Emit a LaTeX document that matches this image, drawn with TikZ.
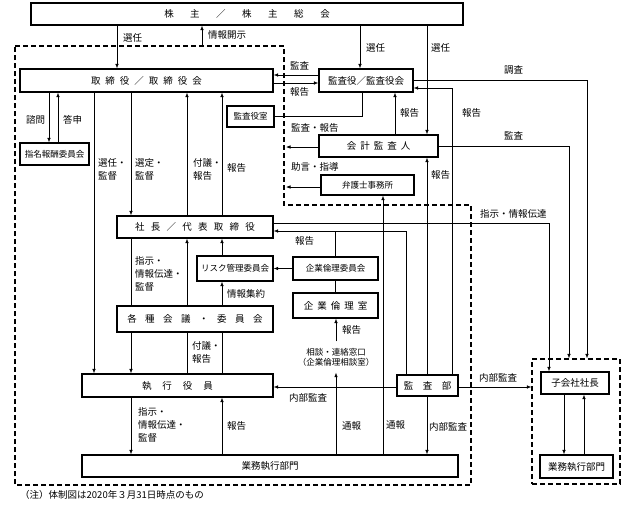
\documentclass[tikz,border=0pt]{standalone}
\usepackage{fontspec}
\setmainfont{Noto Sans CJK JP}
\usetikzlibrary{arrows.meta}

\makeatletter
\newcommand\spaced[2]{%
  \def\sp@sep{}%
  \@tfor\sp@c:=#2\do{\sp@sep\sp@c\def\sp@sep{\hspace{#1}}}}
\makeatother

\tikzset{
  box/.style={draw, line width=1.2pt, fill=white, inner sep=0pt,
    font=\fontsize{9.5}{12}\selectfont},
  small/.style={font=\fontsize{8.5}{10}\selectfont},
  lab/.style={inner sep=0pt, anchor=west, align=left,
    font=\fontsize{9.5}{13}\selectfont},
  con/.style={line width=0.6pt},
  arr/.style={con, -{Latex[length=4.5pt,width=3.5pt]}},
  region/.style={line width=1.2pt, dash pattern=on 5pt off 3pt},
}

\begin{document}
\begin{tikzpicture}[x=1pt, y=-1pt]
\useasboundingbox (0,0) rectangle (624,504);

% company and subsidiary
\draw[region] (15,46) -- (284,46) -- (284,205) -- (471,205) -- (471,485) -- (15,485) -- cycle;
\node[region, draw, minimum width=88, minimum height=125, inner sep=0pt] (grp) at (576,421.5) {};

% boxes
\node[box, minimum width=432, minimum height=22] (sh) at (247,14) {\spaced{16.5pt}{株主／株主総会}};
\node[box, minimum width=253, minimum height=23] (bd) at (146.5,80.5) {\spaced{5pt}{取締役／取締役会}};
\node[box, small, minimum width=69, minimum height=22] (nom) at (54.5,154) {指名報酬委員会};
\node[box, minimum width=94, minimum height=23] (aud) at (366,80.5) {監査役／監査役会};
\node[box, small, minimum width=47, minimum height=21] (aro) at (250.5,116.5) {監査役室};
\node[box, minimum width=119, minimum height=22] (acc) at (378.5,146) {\spaced{4pt}{会計監査人}};
\node[box, small, minimum width=93, minimum height=20] (law) at (367.5,185) {弁護士事務所};
\node[box, minimum width=156, minimum height=22] (ceo) at (195,227) {\spaced{6.25pt}{社長／代表取締役}};
\node[box, small, minimum width=76, minimum height=25] (risk) at (235,268.5) {リスク管理委員会};
\node[box, small, minimum width=85, minimum height=23] (ethc) at (335.5,268.5) {企業倫理委員会};
\node[box, minimum width=85, minimum height=25] (ethr) at (335.5,305.5) {\spaced{4pt}{企業倫理室}};
\node[box, minimum width=156, minimum height=26] (mtg) at (195,319) {\spaced{8.5pt}{各種会議・委員会}};
\node[box, minimum width=191, minimum height=23] (exe) at (177.5,385.5) {\spaced{11pt}{執行役員}};
\node[box, minimum width=61, minimum height=21] (ia) at (427.5,385.5) {\spaced{9.5pt}{監査部}};
\node[box, minimum width=376, minimum height=22] (ops) at (270,466) {業務執行部門};
\node[box, minimum width=68, minimum height=22] (sub) at (575,383) {子会社社長};
\node[box, minimum width=73, minimum height=23] (subops) at (576.5,466.5) {業務執行部門};
\node[small, align=center, inner sep=0pt, minimum height=31] (desk) at (336,357) {相談・連絡窓口\\（企業倫理相談室）};

% shareholders
\coordinate (disc) at (202,46);
\draw[arr] (117,0 |- sh.south) -- (117,0 |- bd.north);
\draw[arr] (disc) -- (disc |- sh.south);
\draw[arr] (360,0 |- sh.south) -- (360,0 |- aud.north);
\draw[arr] (427,0 |- sh.south) -- (427,0 |- acc.north);

% board
\draw[arr] (aud.west |- 0,75) -- (bd.east |- 0,75);
\draw[arr] (bd.east |- 0,83) -- (aud.west |- 0,83);
\draw[arr] (49,0 |- bd.south) -- (49,0 |- nom.north);
\draw[arr] (58,0 |- nom.north) -- (58,0 |- bd.south);
\draw[arr] (94,0 |- bd.south) -- (94,0 |- exe.north);
\draw[arr] (131,0 |- bd.south) -- (131,0 |- ceo.north);
\draw[arr] (187,0 |- ceo.north) -- (187,0 |- bd.south);
\draw[arr] (222,0 |- ceo.north) -- (222,0 |- bd.south);

% auditors
\coordinate (acclink) at (286,147);
\coordinate (lawlink) at (286,187);
\draw[con] (aro.east) -| (362,0 |- aud.south);
\draw[arr] (395,0 |- acc.north) -- (395,0 |- aud.south);
\draw[arr] (acc.west |- acclink) -- (acclink);
\draw[arr] (law.west |- lawlink) -- (lawlink);
\draw[arr] (aud.east) -| (587,0 |- grp.north);
\draw[arr] (acc.east) -| (569,0 |- grp.north);
\draw[arr] (ceo.east |- 0,223) -| (549,0 |- sub.north);

% president and committees
\draw[arr] (406,0 |- ia.north) |- (ceo.east |- 0,231);
\draw[con] (ethc.north) -- (ethc.north |- 0,231);
\draw[arr] (ethc.west) -- (risk.east);
\draw[con] (ethc.south) -- (ethr.north);
\draw[con] (131,0 |- ceo.south) -- (131,0 |- mtg.north);
\draw[arr] (131,0 |- mtg.south) -- (131,0 |- exe.north);
\draw[arr] (187,0 |- mtg.north) -- (187,0 |- ceo.south);
\draw[arr] (222,0 |- mtg.north) -- (222,0 |- risk.south);
\draw[arr] (222,0 |- risk.north) -- (222,0 |- ceo.south);
\draw[con] (187,0 |- exe.north) -- (187,0 |- mtg.south);
\draw[con] (222,0 |- exe.north) -- (222,0 |- mtg.south);

% operations
\draw[arr] (131,0 |- exe.south) -- (131,0 |- ops.north);
\draw[arr] (222,0 |- ops.north) -- (222,0 |- exe.south);
\draw[arr] (336,0 |- ops.north) -- (336,0 |- desk.south);
\draw[arr] (336,0 |- desk.north) -- (336,0 |- ethr.south);
\draw[arr] (383,0 |- ops.north) -- (383,0 |- law.south);

% internal audit
\draw[arr] (ia.west |- 0,387) -- (exe.east |- 0,387);
\draw[arr] (427,0 |- ia.south) -- (427,0 |- ops.north);
\draw[arr] (427,0 |- ia.north) -- (427,0 |- acc.south);
\draw[arr] (452,0 |- ia.north) |- (aud.east |- 0,88);
\draw[arr] (ia.east |- 0,387) -- (grp.west |- 0,387);
\draw[arr] (564,0 |- sub.south) -- (564,0 |- subops.north);
\draw[arr] (584,0 |- subops.north) -- (584,0 |- sub.south);

% labels
\node[lab] (l1) at (123,38) {選任};
\node[lab] (l2) at (208,35) {情報開示};
\node[lab] (l3) at (366,48) {選任};
\node[lab] (l4) at (431,48) {選任};
\node[lab] (l5) at (290,66) {監査};
\node[lab] (l6) at (290,92) {報告};
\node[lab] (l7) at (26,120) {諮問};
\node[lab] (l8) at (63,120) {答申};
\node[lab] (l9) at (98,169) {選任・\\監督};
\node[lab] (l10) at (135,169) {選定・\\監督};
\node[lab] (l11) at (193,169) {付議・\\報告};
\node[lab] (l12) at (227,168) {報告};
\node[lab] (l13) at (400,113) {報告};
\node[lab] (l14) at (462,113) {報告};
\node[lab] (l15) at (291,128) {監査・報告};
\node[lab] (l16) at (291,167) {助言・指導};
\node[lab] (l17) at (504,70) {調査};
\node[lab] (l18) at (504,136) {監査};
\node[lab] (l19) at (431,175) {報告};
\node[lab] (l20) at (480,214) {指示・情報伝達};
\node[lab] (l21) at (295,241) {報告};
\node[lab] (l22) at (135,274) {指示・\\情報伝達・\\監督};
\node[lab] (l23) at (227,294) {情報集約};
\node[lab] (l24) at (192,352) {付議・\\報告};
\node[lab] (l25) at (138,425) {指示・\\情報伝達・\\監督};
\node[lab] (l26) at (227,426) {報告};
\node[lab] (l27) at (342,330) {報告};
\node[lab] (l28) at (342,426) {通報};
\node[lab] (l29) at (386,425) {通報};
\node[lab] (l30) at (289,398) {内部監査};
\node[lab] (l31) at (429,427) {内部監査};
\node[lab] (l32) at (479,378) {内部監査};
\node[lab] (note) at (20,495) {（注）体制図は2020年３月31日時点のもの};
\end{tikzpicture}
\end{document}
